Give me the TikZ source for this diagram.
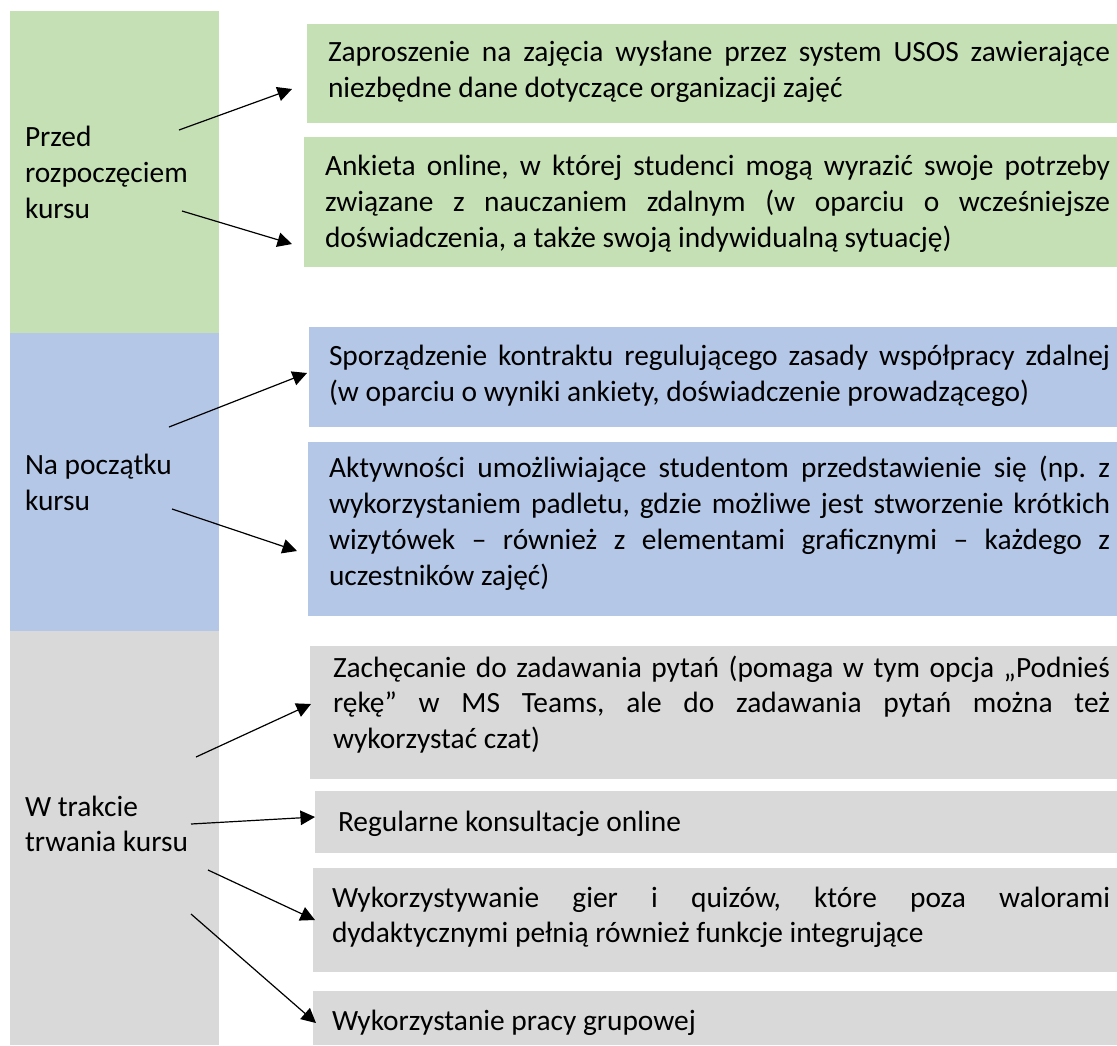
\documentclass[tikz,border=0pt]{standalone}
\usepackage{fontspec}
\setmainfont{Carlito}
\usetikzlibrary{arrows.meta}
\definecolor{cgreen}{HTML}{C5E0B4}
\definecolor{cblue}{HTML}{B4C7E7}
\definecolor{cgray}{HTML}{D9D9D9}
\setlength{\parindent}{0pt}
\frenchspacing
\newcommand{\rs}{\spaceskip=0pt\xspaceskip=0pt\frenchspacing}
\newcommand{\jl}[2]{\noindent\hbox to #1pt{\rs #2}}
\begin{document}
\begin{tikzpicture}[x=1pt, y=-1pt,
  font=\fontsize{29.4}{35.7}\selectfont\rs,
  panel/.style={anchor=north west, inner sep=0pt, outer sep=0pt, draw=none},
  txt/.style={anchor=north west, inner sep=0pt, outer sep=0pt, align=left, text=black},
  conn/.style={-{Triangle[length=14.5pt,width=14.5pt]}, line width=1.2pt, black}]
\useasboundingbox (0,0) rectangle (1117,1045);
% left column
\node[panel, fill=cgreen, minimum width=209, minimum height=322] (colg) at (10,11) {};
\node[panel, fill=cblue,  minimum width=209, minimum height=298] (colb) at (10,333) {};
\node[panel, fill=cgray,  minimum width=209, minimum height=414] (colr) at (10,631) {};
% right boxes
\node[panel, fill=cgreen, minimum width=810, minimum height=99]  (g1) at (307,24) {};
\node[panel, fill=cgreen, minimum width=813, minimum height=130] (g2) at (304,137) {};
\node[panel, fill=cblue,  minimum width=808, minimum height=100] (b1) at (309,327) {};
\node[panel, fill=cblue,  minimum width=809, minimum height=174] (b2) at (308,442) {};
\node[panel, fill=cgray,  minimum width=807, minimum height=133] (r1) at (310,646) {};
\node[panel, fill=cgray,  minimum width=802, minimum height=62]  (r2) at (315,791) {};
\node[panel, fill=cgray,  minimum width=804, minimum height=104] (r3) at (313,868) {};
\node[panel, fill=cgray,  minimum width=804, minimum height=54]  (r4) at (313,991) {};
% left labels
\node[txt] (lg) at (25,122) {\rs\strut Przed\\rozpoczęciem\\kursu};
\node[txt] (lb) at (25,450) {\rs\strut Na początku\\kursu};
\node[txt] (lr) at (25,791) {\rs\strut W trakcie\\trwania kursu};
% texts
\node[txt, text width=782pt] (tg1) at (328,37) {\rs\strut\jl{782}{Zaproszenie na zajęcia wysłane przez system USOS zawierające}\\\rs niezbędne dane dotyczące organizacji zajęć};
\node[txt, text width=785pt] (tg2) at (325,151) {\rs\strut\jl{785}{Ankieta online, w której studenci mogą wyrazić swoje potrzeby}\\\jl{785}{związane z nauczaniem zdalnym (w oparciu o wcześniejsze}\\\rs doświadczenia, a także swoją indywidualną sytuację)};
\node[txt, text width=781pt] (tb1) at (329,341) {\rs\strut\jl{781}{Sporządzenie kontraktu regulującego zasady współpracy zdalnej}\\\rs (w oparciu o wyniki ankiety, doświadczenie prowadzącego)};
\node[txt, text width=781pt] (tb2) at (329,453) {\rs\strut\jl{781}{Aktywności umożliwiające studentom przedstawienie się (np. z}\\\jl{781}{wykorzystaniem padletu, gdzie możliwe jest stworzenie krótkich}\\\jl{781}{wizytówek – również z elementami graficznymi – każdego z}\\\rs uczestników zajęć)};
\node[txt, text width=777pt] (tr1) at (333,652) {\rs\strut\jl{777}{Zachęcanie do zadawania pytań (pomaga w tym opcja „Podnieś}\\\jl{777}{rękę” w MS Teams, ale do zadawania pytań można też}\\\rs wykorzystać czat)};
\node[txt] (tr2) at (338,806) {\rs\strut Regularne konsultacje online};
\node[txt, text width=778pt] (tr3) at (332,882) {\rs\strut\jl{778}{Wykorzystywanie gier i quizów, które poza walorami}\\\rs dydaktycznymi pełnią również funkcje integrujące};
\node[txt] (tr4) at (332,1005) {\rs\strut Wykorzystanie pracy grupowej};
% connector ends
\coordinate (sg1) at (179,130); \coordinate (eg1) at (292,89);
\coordinate (sg2) at (182,211); \coordinate (eg2) at (292,244);
\coordinate (sb1) at (169,427); \coordinate (eb1) at (307,373);
\coordinate (sb2) at (172,509); \coordinate (eb2) at (297,551);
\coordinate (sr1) at (196,757); \coordinate (er1) at (311,704);
\coordinate (sr2) at (191,824); \coordinate (er2) at (315,817);
\coordinate (sr3) at (208,870); \coordinate (er3) at (315,920);
\coordinate (sr4) at (191,914); \coordinate (er4) at (316,1023);
\draw[conn] (sg1) -- (eg1);
\draw[conn] (sg2) -- (eg2);
\draw[conn] (sb1) -- (eb1);
\draw[conn] (sb2) -- (eb2);
\draw[conn] (sr1) -- (er1);
\draw[conn] (sr2) -- (er2);
\draw[conn] (sr3) -- (er3);
\draw[conn] (sr4) -- (er4);
\end{tikzpicture}
\end{document}
